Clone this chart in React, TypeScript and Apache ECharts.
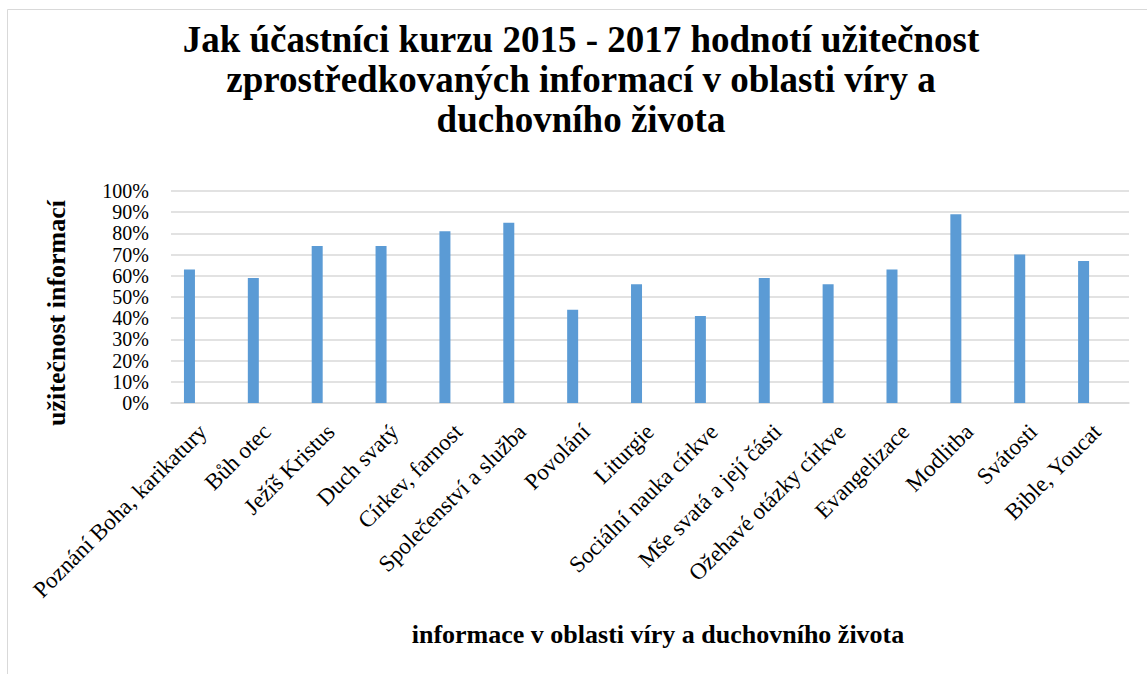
import React, { useEffect, useRef } from "react";
import * as echarts from "echarts";

const categories = [
  "Poznání Boha, karikatury",
  "Bůh otec",
  "Ježíš Kristus",
  "Duch svatý",
  "Církev, farnost",
  "Společenství a služba",
  "Povolání",
  "Liturgie",
  "Sociální nauka církve",
  "Mše svatá a její části",
  "Ožehavé otázky církve",
  "Evangelizace",
  "Modlitba",
  "Svátosti",
  "Bible, Youcat",
];

const usefulness = [0.63, 0.59, 0.74, 0.74, 0.81, 0.85, 0.44, 0.56, 0.41, 0.59, 0.56, 0.63, 0.89, 0.70, 0.67];

const yTicks = [0, 0.1, 0.2, 0.3, 0.4, 0.5, 0.6, 0.7, 0.8, 0.9, 1];

const titleText =
  "Jak účastníci kurzu 2015 - 2017 hodnotí užitečnost\nzprostředkovaných informací v oblasti víry a\nduchovního života";
const yTitle = "užitečnost informací";
const xTitle = "informace v oblasti víry a duchovního života";

const FONT = "'Liberation Serif', 'Times New Roman', serif";

export default function App() {
  const ref = useRef<HTMLDivElement>(null);

  useEffect(() => {
    document.body.style.margin = "0";
    if (!ref.current) return;
    const chart = echarts.init(ref.current, undefined, { renderer: "svg" });
    chart.setOption({
      animation: false,
      backgroundColor: "#ffffff",
      title: {
        text: titleText,
        left: 576,
        textAlign: "center",
        top: 14,
        textStyle: {
          fontFamily: FONT,
          fontWeight: "bold",
          fontSize: 37,
          lineHeight: 40,
          color: "#000000",
        },
      },
      grid: { left: 171, right: 18, top: 191, bottom: 271, containLabel: false },
      xAxis: {
        type: "category",
        data: categories,
        axisTick: { show: false },
        axisLine: { lineStyle: { color: "#d9d9d9", width: 1.5 } },
        axisLabel: {
          interval: 0,
          rotate: 45,
          margin: 25,
          fontFamily: FONT,
          fontSize: 23,
          color: "#000000",
        },
      },
      yAxis: {
        type: "value",
        min: 0,
        max: 1,
        interval: 0.1,
        axisLine: { show: false },
        axisTick: { show: false },
        splitLine: { lineStyle: { color: "#d9d9d9", width: 1.5 } },
        axisLabel: {
          showMinLabel: true,
          showMaxLabel: true,
          hideOverlap: false,
          margin: 22,
          fontFamily: FONT,
          fontSize: 20,
          lineHeight: 19,
          color: "#000000",
          formatter: (v: number) => {
            const t = yTicks.find((x) => Math.abs(x - v) < 1e-6);
            return Math.round((t ?? v) * 100) + "%";
          },
        },
      },
      series: [
        {
          type: "bar",
          data: usefulness,
          barWidth: 11,
          barGap: "145%",
          itemStyle: { color: "#5b9bd5" },
        },
        {
          type: "bar",
          data: [],
          barWidth: 11,
          barGap: "145%",
          itemStyle: { color: "#ed7d31" },
        },
      ],
      graphic: [
        {
          type: "rect",
          shape: { x: 7.5, y: 9.5, width: 1300, height: 800 },
          style: { fill: "none", stroke: "#d9d9d9", lineWidth: 1 },
          silent: true,
          z: -1,
        },
        {
          type: "text",
          x: 56,
          y: 313,
          rotation: Math.PI / 2,
          style: {
            text: yTitle,
            fontFamily: FONT,
            fontWeight: "bold",
            fontSize: 26,
            fill: "#000000",
            textAlign: "center",
            textVerticalAlign: "middle",
          },
        },
        {
          type: "text",
          x: 658,
          y: 634,
          style: {
            text: xTitle,
            fontFamily: FONT,
            fontWeight: "bold",
            fontSize: 26,
            fill: "#000000",
            textAlign: "center",
            textVerticalAlign: "middle",
          },
        },
      ],
    });
    return () => chart.dispose();
  }, []);

  return <div ref={ref} style={{ width: 1147, height: 674 }} />;
}
